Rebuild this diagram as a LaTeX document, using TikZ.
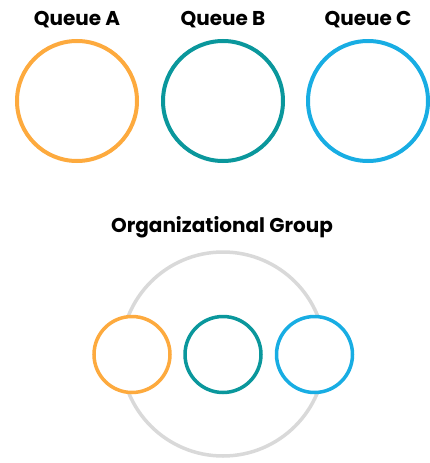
\documentclass[tikz,border=0pt]{standalone}
\usepackage{fontspec}
\setmainfont{Poppins}
\definecolor{qorange}{HTML}{FDAA3E}
\definecolor{qteal}{HTML}{0A979C}
\definecolor{qblue}{HTML}{18ADE3}
\definecolor{qgray}{HTML}{D9D9D9}
\begin{document}
\begin{tikzpicture}[x=1pt,y=-1pt,
  title/.style={font=\fontsize{20}{24}\selectfont\bfseries, text=black, anchor=base, inner sep=0pt},
  bigq/.style={circle, draw, line width=4pt, minimum size=120pt, inner sep=0pt},
  smallq/.style={circle, draw, line width=3.5pt, minimum size=76pt, inner sep=0pt},
  group/.style={circle, draw=qgray, line width=3.5pt, minimum size=204pt, inner sep=0pt}]
\useasboundingbox (0,0) rectangle (429,463);
% queue labels and circles
\node[title] (la) at (77,25) {Queue A};
\node[title] (lb) at (223,25) {Queue B};
\node[title] (lc) at (368,25) {Queue C};
\node[bigq, draw=qorange] (qa) at (77,101) {};
\node[bigq, draw=qteal] (qb) at (223,101) {};
\node[bigq, draw=qblue] (qc) at (368,101) {};
% organizational group
\node[title] (lg) at (222,232) {Organizational Group};
\node[group] (g) at (223,354) {};
\node[smallq, draw=qorange, fill=white] (sa) at (132,354.5) {};
\node[smallq, draw=qteal, fill=white] (sb) at (223,354.5) {};
\node[smallq, draw=qblue, fill=white] (sc) at (314.5,354.5) {};
\end{tikzpicture}
\end{document}
